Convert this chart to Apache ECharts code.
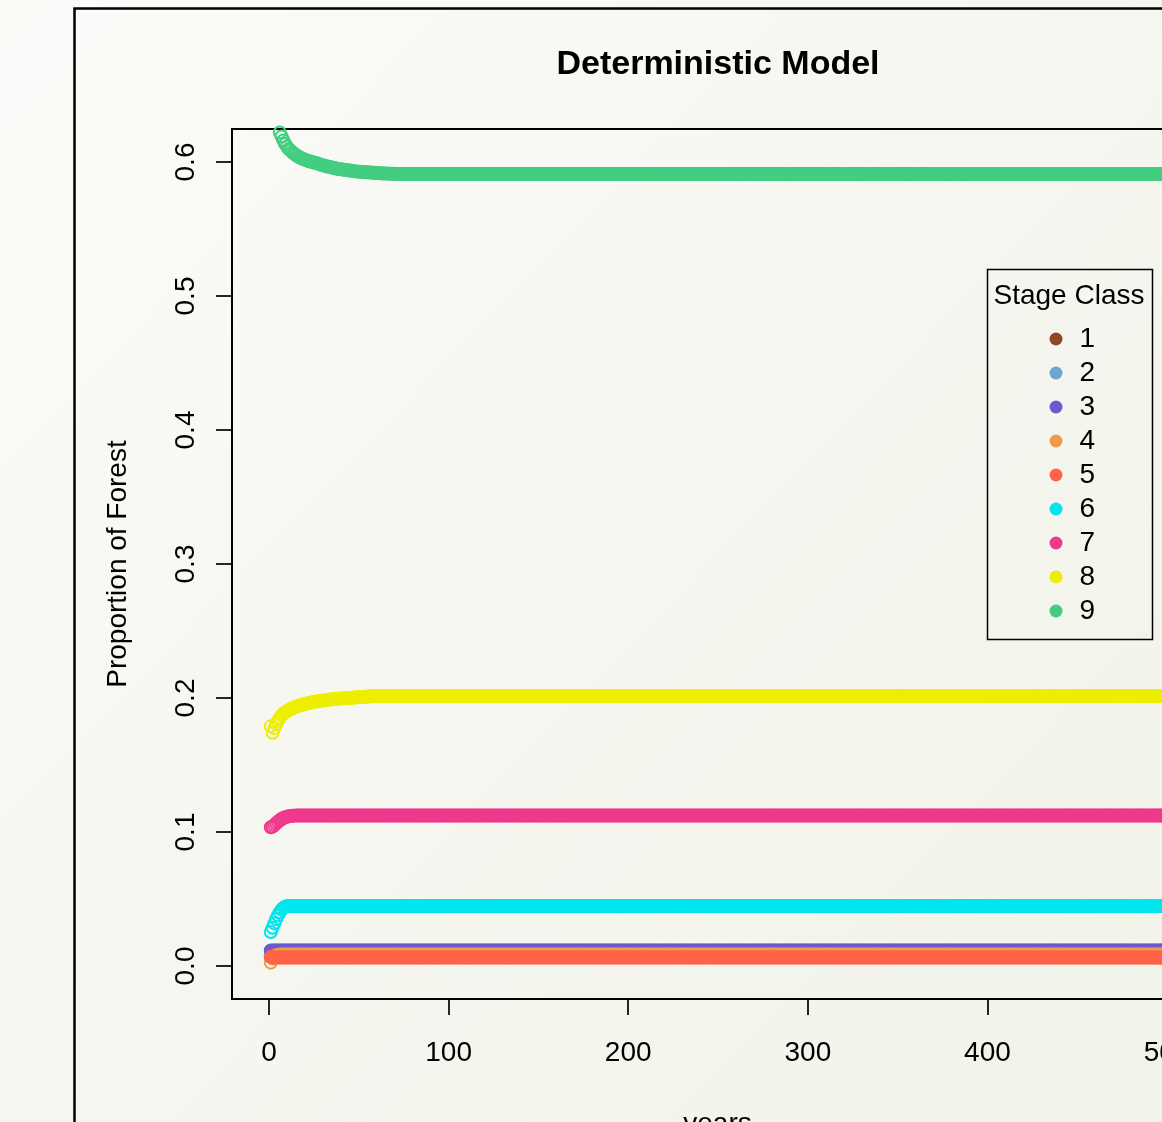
<!DOCTYPE html>
<html>
<head>
<meta charset="utf-8">
<script src="https://cdn.jsdelivr.net/npm/echarts@6/dist/echarts.min.js"></script>
<style>html,body{margin:0;padding:0;overflow:hidden;}#c{width:1162px;height:1122px;}</style>
</head>
<body>
<div id="c"></div>
<script>
// ---- data ----
const stageNames = ['1','2','3','4','5','6','7','8','9'];
const stageColors = ['#8B4726','#6CA6CD','#6A5ACD','#EE9A49','#FF6347','#00E5EE','#EE3A8C','#EEEE00','#43CD80'];
const nYears = 500;
const xTicks = [0,100,200,300,400,500];
const yTicks = [0,0.1,0.2,0.3,0.4,0.5,0.6];

// transient values for the first years; the series then stays at its steady value
const stage1Start = [0.0075];
const stage1Steady = 0.0075;
const stage2Start = [0.0085];
const stage2Steady = 0.0085;
const stage3Start = [0.0116];
const stage3Steady = 0.0116;
const stage4Start = [0.0025,0.0055,0.0072,0.0080,0.0084,0.0086];
const stage4Steady = 0.0086;
const stage5Start = [0.0068,0.0065,0.0063];
const stage5Steady = 0.0063;
const stage6Start = [0.0254,0.0285,0.0318,0.0350,0.0378,0.0402,0.0421,0.0434,0.0442,0.0446,0.0448];
const stage6Steady = 0.0448;
const stage7Start = [0.1035,0.1040,0.1052,0.1065,0.1077,0.1088,0.1097,0.1104,0.1110,0.1114,0.1117,0.1119,0.1121,0.1122,0.1123];
const stage7Steady = 0.1123;
const stage8Start = [0.179,0.174,0.1775,0.1805,0.183,0.1852,0.187,0.1882,0.1893,0.1902,
  0.191,0.1917,0.1923,0.1929,0.1934,0.1939,0.1944,0.1948,0.1952,0.1956,
  0.1959,0.1962,0.1965,0.1968,0.197,0.1973,0.1975,0.1977,0.1979,0.1981,
  0.1983,0.1985,0.1987,0.1988,0.199,0.1991,0.1993,0.1994,0.1995,0.1996,
  0.1997,0.1998,0.1999,0.2,0.2001,0.2002,0.2003,0.2004,0.2005,0.2006,
  0.2007,0.2008,0.2009,0.201,0.2011,0.2012,0.2013,0.2014,0.2014,0.2015];
const stage8Steady = 0.2015;
const stage9Start = [0.655,0.646,0.638,0.631,0.626,0.622,0.619,0.616,0.6135,0.6115,
  0.6097,0.6085,0.6073,0.6062,0.6052,0.6043,0.6035,0.6028,0.6022,0.6017,
  0.6012,0.6008,0.6004,0.6,0.5996,0.5992,0.5988,0.5984,0.598,0.5976,
  0.5972,0.5968,0.5965,0.5962,0.5959,0.5956,0.5953,0.595,0.5948,0.5946,
  0.5944,0.5942,0.594,0.5938,0.5936,0.5934,0.5932,0.593,0.5929,0.5928,
  0.5927,0.5926,0.5925,0.5924,0.5923,0.5922,0.5921,0.592,0.5919,0.5918,
  0.5917,0.5916,0.5915,0.5915,0.5914,0.5914,0.5913,0.5913,0.5912,0.5912,
  0.5911,0.5911,0.5911,0.591,0.591];
const stage9Steady = 0.591;

const starts = [stage1Start,stage2Start,stage3Start,stage4Start,stage5Start,stage6Start,stage7Start,stage8Start,stage9Start];
const steadies = [stage1Steady,stage2Steady,stage3Steady,stage4Steady,stage5Steady,stage6Steady,stage7Steady,stage8Steady,stage9Steady];

function buildSeriesData(start, steady) {
  const out = [];
  for (let yr = 1; yr <= nYears; yr++) {
    const v = yr <= start.length ? start[yr - 1] : steady;
    out.push([yr, v]);
  }
  return out;
}

const FONT = '"Liberation Sans", Arial, Helvetica, sans-serif';
const chart = echarts.init(document.getElementById('c'), null, {renderer: 'canvas'});

const series = stageNames.map((name, i) => ({
  name: name,
  type: 'scatter',
  symbol: 'circle',
  symbolSize: 12,
  data: buildSeriesData(starts[i], steadies[i]),
  itemStyle: {color: 'rgba(0,0,0,0)', borderColor: stageColors[i], borderWidth: 2, opacity: 1},
  emphasis: {disabled: true},
  large: false,
  progressive: 0,
  clip: true,
  animation: false
}));

chart.setOption({
  animation: false,
  backgroundColor: new echarts.graphic.LinearGradient(0, 0, 1, 1, [
    {offset: 0, color: '#fbfbf9'},
    {offset: 1, color: '#f1f2e8'}
  ]),
  title: {
    text: 'Deterministic Model',
    left: 718, top: 48, padding: 0,
    textAlign: 'center',
    textStyle: {fontFamily: FONT, fontSize: 34, fontWeight: 'bold', color: '#000'}
  },
  grid: {
    left: 232, top: 129, bottom: 123, right: -41,
    outerBoundsMode: 'none',
    show: true, borderColor: '#000', borderWidth: 2, backgroundColor: 'transparent',
    containLabel: false
  },
  xAxis: {
    type: 'value', min: -20.6, max: 520,
    name: 'years', nameLocation: 'middle', nameGap: 111,
    nameTextStyle: {fontFamily: FONT, fontSize: 28, color: '#000'},
    axisLine: {show: false, onZero: false},
    splitLine: {show: false},
    axisTick: {show: true, length: 16, customValues: xTicks, lineStyle: {color: '#000', width: 1.7}},
    axisLabel: {customValues: xTicks, margin: 40, fontFamily: FONT, fontSize: 28, color: '#000'}
  },
  yAxis: {
    type: 'value', min: -0.02463, max: 0.62463,
    name: 'Proportion of Forest', nameLocation: 'middle', nameGap: 100,
    nameTextStyle: {fontFamily: FONT, fontSize: 28, color: '#000'},
    axisLine: {show: false, onZero: false},
    splitLine: {show: false},
    axisTick: {show: true, length: 16, customValues: yTicks, lineStyle: {color: '#000', width: 1.7}},
    axisLabel: {customValues: yTicks, rotate: 90, margin: 32, fontFamily: FONT, fontSize: 28, color: '#000',
      formatter: v => Number(v).toFixed(1)}
  },
  legend: {
    orient: 'vertical',
    left: 1049.5, top: 322, padding: 0,
    itemWidth: 13, itemHeight: 13, itemGap: 0,
    icon: 'circle',
    selectedMode: false,
    data: stageNames.map((n, i) => ({name: n, itemStyle: {color: stageColors[i], borderColor: stageColors[i], borderWidth: 0, opacity: 1}})),
    textStyle: {fontFamily: FONT, fontSize: 28, color: '#000', lineHeight: 28, padding: [6, 0, 0, 12]}
  },
  graphic: [
    {type: 'rect', shape: {x: 74.5, y: 8.5, width: 1400, height: 1400},
     style: {fill: 'none', stroke: '#000', lineWidth: 2.5}, silent: true},
    {type: 'rect', shape: {x: 987.5, y: 269.5, width: 165, height: 370},
     style: {fill: 'none', stroke: '#000', lineWidth: 1.5}, silent: true},
    {type: 'text', x: 1069, y: 296,
     style: {text: 'Stage Class', font: '28px ' + FONT, fill: '#000', align: 'center', verticalAlign: 'middle'}, silent: true}
  ],
  series: series
});
</script>
</body>
</html>
